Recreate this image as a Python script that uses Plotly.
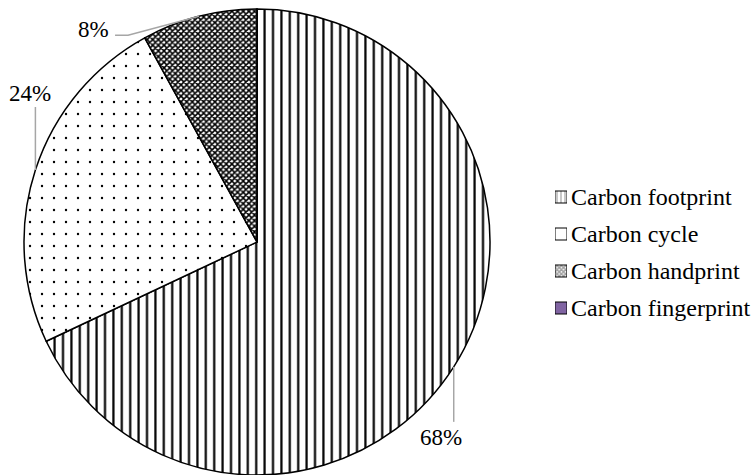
import math
import plotly.graph_objects as go

# Share of each term (percent)
labels = ["Carbon footprint", "Carbon cycle", "Carbon handprint", "Carbon fingerprint"]
shares = [68, 24, 8, 0]

# Fill styling per slice
fill_colors = ["white", "white", "white", "#8064A2"]
slice_patterns = ["|", ".", "x", ""]
slice_pattern_size = [8.4, 12, 4, 8]
slice_pattern_solidity = [0.26, 0.03, 0.62, 0.3]
swatch_patterns = ["|", "", "x", ""]
swatch_pattern_size = [4, 8, 3, 8]
swatch_pattern_solidity = [0.3, 0.3, 0.75, 0.3]

W, H = 754, 475
CX, CY, R = 257, 242, 233          # pie centre / radius in pixels
FONT = "'Liberation Serif', 'Times New Roman', Times, serif"
LEADER = "#A6A6A6"
ROW = 37                            # legend row pitch (px)
LEG_TOP = 197                       # centre of first legend row (px)
SW = 12                             # legend swatch size (px)
LEG_X = 555                         # swatch left edge (px)


def px(x):
    return x / W


def py(y):
    return 1 - y / H


fig = go.Figure()

fig.add_trace(go.Pie(
    labels=labels,
    values=shares,
    sort=False,
    direction="clockwise",
    rotation=0,
    textinfo="none",
    hoverinfo="label+percent",
    showlegend=False,
    marker=dict(
        colors=fill_colors,
        line=dict(color="black", width=1.5),
        pattern=dict(shape=slice_patterns, size=slice_pattern_size,
                     solidity=slice_pattern_solidity,
                     fgcolor="black", bgcolor=fill_colors),
    ),
    domain=dict(x=[px(CX - R), px(CX + R)], y=[py(CY + R), py(CY - R)]),
))

# Legend drawn as patterned swatches on a small helper axis
swatch_len = [1] * len(labels)
fig.add_trace(go.Bar(
    x=swatch_len,
    y=labels,
    orientation="h",
    xaxis="x",
    yaxis="y",
    showlegend=False,
    hoverinfo="skip",
    marker=dict(
        color=fill_colors,
        line=dict(color="black", width=1),
        pattern=dict(shape=swatch_patterns, size=swatch_pattern_size,
                     solidity=swatch_pattern_solidity,
                     fgcolor="black", bgcolor=fill_colors),
    ),
))

n = len(labels)
leg_top_px = LEG_TOP - ROW / 2
leg_bot_px = LEG_TOP + ROW * (n - 0.5)

# Percentage labels with leader lines, placed from each slice's mid-angle
total = sum(shares)
cum = 0
shapes = []
annotations = []
for i, v in enumerate(shares):
    mid = (cum + v / 2) / total * 360
    cum += v
    if v == 0:
        continue
    a = math.radians(mid)
    ex, ey = CX + R * math.sin(a), CY - R * math.cos(a)
    if i == 0:
        pts = [(ex, ey), (ex, ey + 55)]
        lab = (ex - 13, ey + 71)
    elif i == 1:
        pts = [(ex, ey), (ex, ey - 63)]
        lab = (ex - 5.5, ey - 76)
    else:
        pts = [(ex, ey), (ex - 71, ey + 19), (ex - 84, ey + 19)]
        lab = (ex - 106, ey + 13)
    path = "M" + " L".join(f"{px(x):.5f},{py(y):.5f}" for x, y in pts)
    shapes.append(dict(type="path", path=path, xref="paper", yref="paper",
                       line=dict(color=LEADER, width=1.5)))
    annotations.append(dict(
        x=px(lab[0]), y=py(lab[1]), xref="paper", yref="paper",
        text=f"{v}%", showarrow=False, xanchor="center", yanchor="middle",
        font=dict(family=FONT, size=23, color="black"),
    ))

fig.update_layout(
    width=W,
    height=H,
    margin=dict(l=0, r=0, t=0, b=0),
    paper_bgcolor="white",
    plot_bgcolor="rgba(0,0,0,0)",
    showlegend=False,
    font=dict(family=FONT),
    bargap=1 - SW / ROW,
    xaxis=dict(domain=[px(LEG_X), px(LEG_X + SW)], range=[0, 1],
               visible=False, fixedrange=True),
    yaxis=dict(domain=[py(leg_bot_px), py(leg_top_px)], type="category",
               range=[n - 0.5, -0.5], side="right", anchor="x",
               showgrid=False, zeroline=False, showline=False, ticks="",
               ticklabelstandoff=3, fixedrange=True,
               tickfont=dict(family=FONT, size=24, color="black")),
    shapes=shapes,
    annotations=annotations,
)

fig.write_html("out.html")
